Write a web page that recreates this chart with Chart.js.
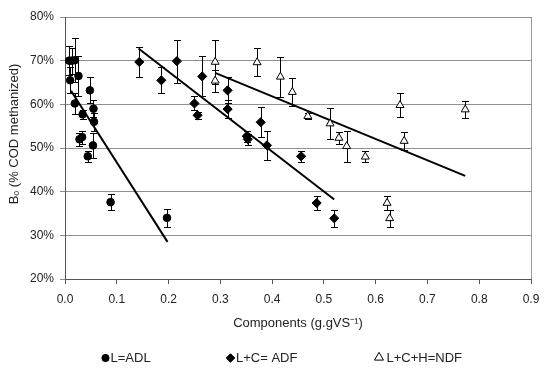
<!DOCTYPE html>
<html>
<head>
<meta charset="utf-8">
<script src="https://cdn.jsdelivr.net/npm/chart.js@4.4.1/dist/chart.umd.min.js"></script>
<style>
  html, body { margin: 0; padding: 0; background: #fff; }
  #wrap { width: 550px; height: 368px; }
</style>
</head>
<body>
<div id="wrap"><canvas id="c" width="550" height="368"></canvas></div>
<script>
// ---- Data ----
const adlX = [0.008, 0.013, 0.019, 0.010, 0.026, 0.019, 0.034, 0.048, 0.055, 0.056, 0.028, 0.033, 0.054, 0.044, 0.088, 0.197];
const adlY = [70.0, 70.0, 70.1, 65.5, 66.5, 60.2, 57.7, 63.2, 59.0, 56.0, 52.0, 52.5, 50.6, 48.1, 37.6, 34.0];
const adlErr = [3.3, 3.0, 5.0, 3.0, 4.5, 2.5, 1.0, 3.0, 2.0, 2.0, 1.5, 1.5, 2.8, 1.2, 1.8, 2.0];

const adfX = [0.1435, 0.186, 0.216, 0.265, 0.250, 0.256, 0.314, 0.314, 0.351, 0.353, 0.378, 0.390, 0.456, 0.486, 0.520];
const adfY = [69.7, 65.5, 69.9, 66.4, 60.2, 57.5, 63.2, 58.9, 52.7, 52.0, 55.9, 50.6, 48.1, 37.4, 33.9];
const adfErr = [3.4, 3.0, 4.9, 4.6, 1.6, 0.8, 3.0, 2.0, 1.3, 1.2, 3.4, 3.4, 1.2, 1.7, 2.0];

const ndfX = [0.290, 0.290, 0.371, 0.416, 0.439, 0.469, 0.512, 0.529, 0.544, 0.580, 0.647, 0.655, 0.622, 0.627, 0.773];
const ndfY = [69.7, 65.4, 69.6, 66.3, 62.8, 57.3, 55.6, 52.3, 50.4, 48.0, 59.8, 51.6, 37.4, 33.9, 58.8];
const ndfErr = [5.0, 2.5, 3.2, 4.6, 3.2, 0.7, 3.6, 1.3, 3.5, 1.2, 2.7, 2.0, 1.7, 2.0, 1.9];

const adlTrendX = [0.0116, 0.198];
const adlTrendY = [63.1, 28.5];
const adfTrendX = [0.142, 0.520];
const adfTrendY = [72.8, 38.2];
const ndfTrendX = [0.290, 0.773];
const ndfTrendY = [67.2, 43.6];

const legendLabels = ["L=ADL", "L+C= ADF", "L+C+H=NDF"];
const xTitle = "Components (g.gVS\u207B\u00B9)";
const yTitle = "B\u2092 (% COD methanized)";

function pts(xs, ys) { return xs.map((x, i) => ({ x: x, y: ys[i] })); }

const FONT = "'Liberation Sans', Arial, sans-serif";

const errorBars = {
  id: 'errorBars',
  beforeDatasetsDraw(chart) {
    const ctx = chart.ctx;
    const xs = chart.scales.x, ys = chart.scales.y;
    ctx.save();
    ctx.strokeStyle = '#000';
    ctx.lineWidth = 1;
    chart.data.datasets.forEach(ds => {
      if (!ds.errors) return;
      ds.data.forEach((p, i) => {
        const e = ds.errors[i];
        const px = Math.round(xs.getPixelForValue(p.x)) + 0.5;
        const yt = Math.round(ys.getPixelForValue(p.y + e)) + 0.5;
        const yb = Math.round(ys.getPixelForValue(p.y - e)) + 0.5;
        ctx.beginPath();
        ctx.moveTo(px, yt); ctx.lineTo(px, yb);
        ctx.moveTo(px - 3.5, yt); ctx.lineTo(px + 3.5, yt);
        ctx.moveTo(px - 3.5, yb); ctx.lineTo(px + 3.5, yb);
        ctx.stroke();
      });
    });
    ctx.restore();
  }
};

const frame = {
  id: 'frame',
  beforeDraw(chart) {
    const a = chart.chartArea, ctx = chart.ctx;
    ctx.save();
    ctx.strokeStyle = '#9a9a9a';
    ctx.lineWidth = 1;
    ctx.beginPath();
    ctx.moveTo(Math.round(a.right) + 0.5, a.top);
    ctx.lineTo(Math.round(a.right) + 0.5, a.bottom);
    ctx.stroke();
    ctx.restore();
  },
  afterDraw(chart) {
    const ctx = chart.ctx;
    ctx.save();
    // y axis title
    ctx.fillStyle = '#222';
    ctx.font = "13px " + FONT;
    ctx.textAlign = 'center';
    ctx.textBaseline = 'middle';
    ctx.translate(14, 134);
    ctx.rotate(-Math.PI / 2);
    ctx.fillText(yTitle, 0, 0);
    ctx.restore();

    // legend
    ctx.save();
    const ly = 358;
    ctx.fillStyle = '#000';
    ctx.strokeStyle = '#000';
    ctx.lineWidth = 1;
    Chart.helpers.drawPoint(ctx, { pointStyle: 'circle', radius: 3.6, borderWidth: 1 }, 105.5, ly);
    ctx.fill();
    Chart.helpers.drawPoint(ctx, { pointStyle: 'rectRot', radius: 4.2, borderWidth: 1 }, 230.5, ly);
    ctx.fillStyle = '#000';
    ctx.fill();
    ctx.fillStyle = 'rgba(0,0,0,0)';
    Chart.helpers.drawPoint(ctx, { pointStyle: 'triangle', radius: 5.2, borderWidth: 1 }, 379, ly - 0.5);
    ctx.fillStyle = '#222';
    ctx.font = "13px " + FONT;
    ctx.textAlign = 'left';
    ctx.textBaseline = 'middle';
    ctx.fillText(legendLabels[0], 110.5, ly);
    ctx.fillText(legendLabels[1], 236, ly);
    ctx.fillText(legendLabels[2], 386.5, ly);
    ctx.restore();
  }
};

new Chart(document.getElementById('c'), {
  type: 'scatter',
  data: {
    datasets: [
      { label: legendLabels[0], data: pts(adlX, adlY), errors: adlErr,
        pointStyle: 'circle', pointRadius: 3.8, backgroundColor: '#000', borderColor: '#000', borderWidth: 1 },
      { label: legendLabels[1], data: pts(adfX, adfY), errors: adfErr,
        pointStyle: 'rectRot', pointRadius: 4.6, backgroundColor: '#000', borderColor: '#000', borderWidth: 1 },
      { label: legendLabels[2], data: pts(ndfX, ndfY), errors: ndfErr,
        pointStyle: 'triangle', pointRadius: 4.6, backgroundColor: '#fff', borderColor: '#000', borderWidth: 1 },
      { label: 'ADL trend', data: pts(adlTrendX, adlTrendY), showLine: true, pointRadius: 0,
        borderColor: '#000', borderWidth: 2, fill: false },
      { label: 'ADF trend', data: pts(adfTrendX, adfTrendY), showLine: true, pointRadius: 0,
        borderColor: '#000', borderWidth: 2, fill: false },
      { label: 'NDF trend', data: pts(ndfTrendX, ndfTrendY), showLine: true, pointRadius: 0,
        borderColor: '#000', borderWidth: 2, fill: false }
    ]
  },
  options: {
    responsive: false,
    animation: false,
    devicePixelRatio: 1,
    layout: { padding: { left: 0, right: 19, top: 17, bottom: 37 } },
    plugins: { legend: { display: false }, tooltip: { enabled: false } },
    scales: {
      x: {
        type: 'linear', min: 0, max: 0.9,
        ticks: { stepSize: 0.1, padding: 8, color: '#222', font: { size: 12, family: FONT },
                 callback: v => Number(v).toFixed(1) },
        grid: { drawOnChartArea: false, drawTicks: true, tickLength: 5, color: '#555' },
        border: { color: '#555', width: 1 },
        title: { display: true, text: xTitle, color: '#222', font: { size: 13, family: FONT },
                 padding: { top: 9, bottom: 0 } },
        afterFit: s => { s.height = 52; }
      },
      y: {
        type: 'linear', min: 20, max: 80,
        ticks: { stepSize: 10, padding: 6, color: '#222', font: { size: 12, family: FONT },
                 callback: v => v + '%' },
        grid: { color: '#8f8f8f', tickLength: 5, drawTicks: true },
        border: { color: '#555', width: 1 },
        afterFit: s => { s.width = 65; }
      }
    }
  },
  plugins: [errorBars, frame]
});
</script>
</body>
</html>
